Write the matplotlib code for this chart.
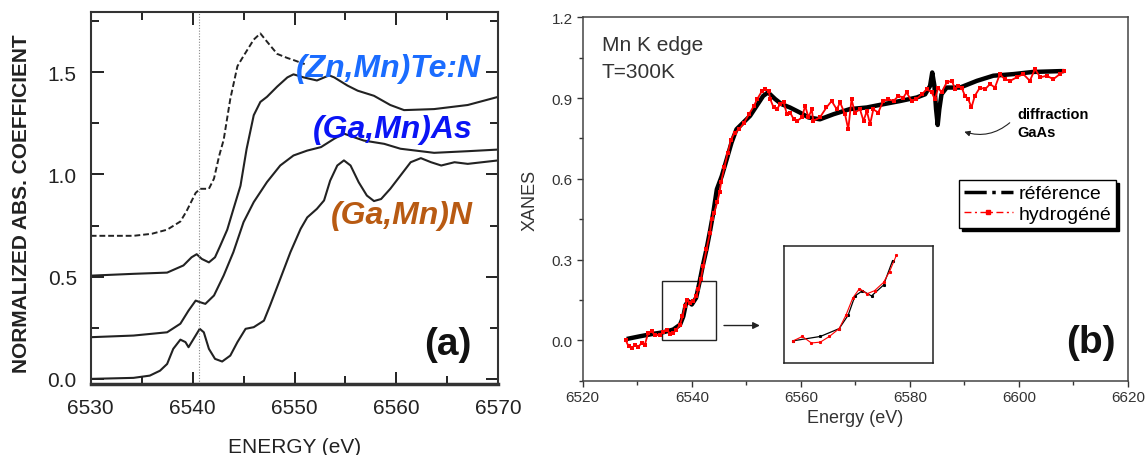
import numpy as np
import matplotlib
matplotlib.use("Agg")
import matplotlib.pyplot as plt
from matplotlib.lines import Line2D
from matplotlib.ticker import MultipleLocator, FormatStrFormatter
import matplotlib.patches as mpatches

plt.rcParams['font.family'] = ['Liberation Sans', 'DejaVu Sans']

# ---------------------------------------------------------------- #
# (a) Mn K-edge XANES of three DMS compounds (offset curves)
# ---------------------------------------------------------------- #
znmnte_e = [6530, 6532, 6534.2, 6536, 6537.5, 6538.8, 6539.4, 6540.3, 6540.75,
            6541.6, 6542.1, 6542.6, 6543.05, 6543.7, 6544.4, 6545.0, 6546.0,
            6546.65, 6547.3, 6548.3, 6549.3, 6549.9, 6551.0]
znmnte_y = [0.70, 0.70, 0.70, 0.71, 0.73, 0.77, 0.82, 0.91, 0.93,
            0.93, 0.98, 1.09, 1.17, 1.37, 1.53, 1.58, 1.66,
            1.69, 1.65, 1.59, 1.57, 1.56, 1.54]

gamnas_e = [6530, 6534.2, 6537.5, 6539.1, 6539.9, 6540.4, 6540.9, 6541.6, 6542.2,
            6542.7, 6543.4, 6544.0, 6544.7, 6545.3, 6546.0, 6546.65, 6547.3,
            6548.3, 6549.3, 6549.9, 6550.9, 6552.2, 6553.4, 6553.9, 6555.2,
            6556.2, 6557.8, 6559.4, 6560.75, 6563.7, 6567.0, 6570.0]
gamnas_y = [0.505, 0.514, 0.52, 0.555, 0.595, 0.61, 0.587, 0.57, 0.595,
            0.65, 0.73, 0.83, 0.945, 1.125, 1.29, 1.355, 1.38,
            1.43, 1.475, 1.49, 1.475, 1.46, 1.485, 1.475, 1.435,
            1.41, 1.385, 1.34, 1.315, 1.32, 1.34, 1.38]

gamnas2_e = [6530, 6534.2, 6537.5, 6538.8, 6539.6, 6540.3, 6540.75, 6541.25,
             6542.1, 6543.05, 6544.0, 6545.0, 6546.0, 6547.3, 6548.6, 6549.9,
             6551.25, 6552.6, 6553.9, 6554.85, 6555.8, 6556.8, 6558.8, 6560.4,
             6563.7, 6567.0, 6570.0]
gamnas2_y = [0.204, 0.212, 0.228, 0.27, 0.334, 0.383, 0.375, 0.367,
             0.408, 0.506, 0.62, 0.767, 0.865, 0.963, 1.044, 1.093,
             1.117, 1.134, 1.175, 1.20, 1.183, 1.166, 1.15, 1.126,
             1.106, 1.114, 1.122]

gamnn_e = [6530, 6534.2, 6535.8, 6536.8, 6537.5, 6538.1, 6538.8, 6539.3, 6539.6,
           6540.1, 6540.7, 6541.1, 6541.6, 6542.2, 6542.9, 6543.7, 6544.4,
           6545.2, 6546.0, 6547.0, 6547.6, 6548.6, 6549.6, 6550.6, 6551.25,
           6552.2, 6552.9, 6553.5, 6554.2, 6554.85, 6555.5, 6556.3, 6557.1,
           6557.8, 6558.5, 6559.4, 6560.4, 6561.4, 6562.4, 6563.4, 6564.4,
           6565.7, 6567.0, 6570.0]
gamnn_y = [0.0, 0.005, 0.016, 0.04, 0.073, 0.147, 0.192, 0.18, 0.155,
           0.196, 0.245, 0.228, 0.147, 0.098, 0.085, 0.114, 0.18,
           0.245, 0.253, 0.285, 0.359, 0.489, 0.62, 0.734, 0.79,
           0.832, 0.873, 0.97, 1.044, 1.069, 1.044, 0.962, 0.897,
           0.87, 0.88, 0.93, 0.995, 1.06, 1.08, 1.06, 1.044,
           1.06, 1.052, 1.069]

edge_marker_e = 6540.65

# ---------------------------------------------------------------- #
# (b) reference vs hydrogenated sample
# ---------------------------------------------------------------- #
ref_e = [6528.07, 6530.5, 6532.9, 6534.8, 6536.6, 6537.85, 6538.45, 6538.9,
         6539.4, 6540.0, 6540.8, 6541.4, 6542.0, 6542.7, 6543.35, 6543.95,
         6544.6, 6545.5, 6546.4,
         6547.3, 6548.2, 6549.45, 6550.7, 6551.9, 6553.1, 6554.0, 6555.3,
         6556.5, 6558.0, 6559.85, 6561.4, 6563.5, 6566.0, 6569.0, 6572.1,
         6575.1, 6578.2, 6581.25, 6582.8, 6583.7, 6584.1, 6584.5, 6584.8,
         6585.1, 6585.4, 6585.8, 6586.75, 6589.2, 6592.3, 6595.3, 6599.0,
         6602.6, 6607.5, 6608.3]
ref_y = [0.005, 0.015, 0.024, 0.03, 0.04, 0.058, 0.089, 0.133,
         0.145, 0.133, 0.158, 0.214, 0.275, 0.338, 0.406, 0.474,
         0.561, 0.61, 0.672,
         0.735, 0.784, 0.809, 0.834, 0.871, 0.908, 0.921, 0.896,
         0.877, 0.865, 0.846, 0.828, 0.821, 0.84, 0.859, 0.865,
         0.877, 0.889, 0.902, 0.914, 0.945, 0.995, 0.945, 0.859,
         0.80, 0.859, 0.914, 0.939, 0.939, 0.964, 0.983, 0.989,
         0.997, 1.0, 1.0]

hyd_e = [6527.9, 6528.4, 6529.0, 6529.6, 6530.2, 6530.8, 6531.4, 6532.0, 6532.65,
         6533.25, 6534.2, 6534.8, 6535.4, 6536.0, 6536.6, 6537.2, 6537.85, 6538.3,
         6538.75, 6539.2, 6539.7, 6540.2, 6540.8, 6541.2, 6541.65, 6542.1, 6542.7,
         6543.35, 6543.65, 6544.1, 6544.7, 6545.1, 6545.4, 6546.0, 6546.6, 6547.2,
         6547.85, 6548.7, 6549.6, 6550.5, 6551.4, 6552.0, 6552.9, 6553.5, 6554.1,
         6554.4, 6555.0, 6555.6, 6556.2, 6556.85, 6557.45, 6558.05, 6558.7,
         6559.3, 6560.2, 6560.8, 6561.4, 6562.0, 6562.3, 6563.5, 6564.7, 6565.65,
         6566.6, 6567.2, 6568.1, 6568.7, 6569.3, 6569.9, 6570.85, 6571.5, 6572.1,
         6572.7, 6573.3, 6574.2, 6575.1, 6576.0, 6577.0, 6577.9, 6578.8, 6579.4,
         6580.3, 6581.2, 6582.2, 6583.1, 6584.0, 6584.6, 6585.2, 6585.8, 6586.75,
         6587.7, 6588.3, 6588.9, 6589.5, 6590.1, 6590.7, 6591.3, 6591.9, 6592.85,
         6593.8, 6594.7, 6595.6, 6596.5, 6597.4, 6598.4, 6599.6, 6600.8, 6602.0,
         6602.95, 6603.9, 6605.1, 6606.3, 6607.5, 6608.3]
hyd_y = [0.0, -0.022, -0.03, -0.016, -0.024, -0.01, -0.016, 0.027, 0.033,
         0.02, 0.02, 0.03, 0.04, 0.025, 0.027, 0.04, 0.058, 0.089,
         0.128, 0.15, 0.138, 0.145, 0.164, 0.189, 0.226, 0.275, 0.338,
         0.40, 0.45, 0.474, 0.515, 0.55, 0.59, 0.645, 0.696, 0.746,
         0.77, 0.784, 0.809, 0.84, 0.871, 0.896, 0.927, 0.933, 0.927,
         0.896, 0.865, 0.858, 0.877, 0.884, 0.84, 0.846, 0.821,
         0.815, 0.828, 0.871, 0.828, 0.858, 0.815, 0.828, 0.865, 0.889,
         0.858, 0.884, 0.84, 0.784, 0.896, 0.846, 0.858, 0.815, 0.852,
         0.803, 0.858, 0.846, 0.889, 0.896, 0.889, 0.908, 0.902, 0.921,
         0.889, 0.896, 0.914, 0.933, 0.921, 0.896, 0.939, 0.921, 0.958,
         0.964, 0.933, 0.945, 0.939, 0.908, 0.896, 0.865, 0.908, 0.939,
         0.933, 0.952, 0.939, 0.989, 0.97, 0.964, 0.977, 0.989, 0.964,
         1.008, 0.977, 0.983, 0.97, 0.989, 1.0]

zoom_box = (6534.6, 0.0, 6544.4, 0.222)   # region enlarged in the inset
inset_window = (6534.7, 6541.7)

W, H = 1146, 456
fig = plt.figure(figsize=(W / 100, H / 100), dpi=100)


def px(x0, y0, x1, y1):
    # pixel box (top-left origin) -> figure fraction rect
    return [x0 / W, 1 - y1 / H, (x1 - x0) / W, (y1 - y0) / H]


# ---------------------------- panel (a) ---------------------------- #
ax_a = fig.add_axes(px(90.7, 13, 498.3, 385))
ax_a.plot(znmnte_e, znmnte_y, color='#222222', lw=1.4, ls=(0, (3, 1.5)))
for e, y in [(gamnas_e, gamnas_y), (gamnas2_e, gamnas2_y), (gamnn_e, gamnn_y)]:
    ax_a.plot(e, y, color='#222222', lw=1.5)
ax_a.axvline(edge_marker_e, color='#888888', lw=0.8, ls=(0, (1, 1.5)))

ax_a.set_xlim(6530, 6570)
ax_a.set_ylim(-0.025, 1.795)
ax_a.xaxis.set_major_locator(MultipleLocator(10))
ax_a.xaxis.set_minor_locator(MultipleLocator(5))
ax_a.yaxis.set_major_locator(MultipleLocator(0.5))
ax_a.yaxis.set_minor_locator(MultipleLocator(0.25))
ax_a.tick_params(which='both', direction='in', top=True, right=True,
                 labelsize=15, colors='#222222', width=1.4)
ax_a.tick_params(which='major', length=9, pad=10)
ax_a.tick_params(which='minor', length=6)
for s in ax_a.spines.values():
    s.set_linewidth(1.5)
    s.set_color('#333333')
ax_a.spines['bottom'].set_linewidth(2.5)

ax_a.text(6568.3, 1.52, "(Zn,Mn)Te:N", color='#1a6cff', fontsize=23,
          fontweight='bold', fontstyle='italic', ha='right', va='center')
ax_a.text(6567.5, 1.223, "(Ga,Mn)As", color='#0a14f5', fontsize=23,
          fontweight='bold', fontstyle='italic', ha='right', va='center')
ax_a.text(6567.5, 0.80, "(Ga,Mn)N", color='#b85a12', fontsize=23,
          fontweight='bold', fontstyle='italic', ha='right', va='center')
ax_a.text(6565.0, 0.17, "(a)", color='#111111', fontsize=28,
          fontweight='bold', ha='center', va='center')

fig.text(21.7 / W, 1 - 203.5 / H, "NORMALIZED ABS. COEFFICIENT", rotation=90,
         fontsize=15, fontweight='bold', color='#222222', ha='center', va='center')
fig.text(295 / W, 1 - 438 / H, "ENERGY (eV)", fontsize=15, color='#222222',
         ha='center', va='top')

# ---------------------------- panel (b) ---------------------------- #
ax_b = fig.add_axes(px(582.7, 18.3, 1128, 381.7))
ax_b.plot(ref_e, ref_y, color='black', lw=3.2, solid_capstyle='butt')
ax_b.plot(hyd_e, hyd_y, color='red', lw=1.3, marker='s', ms=2.6, mew=0)

ax_b.set_xlim(6520, 6620)
ax_b.set_ylim(-0.15, 1.2)
ax_b.xaxis.set_major_locator(MultipleLocator(20))
ax_b.xaxis.set_minor_locator(MultipleLocator(10))
ax_b.yaxis.set_major_locator(MultipleLocator(0.3))
ax_b.yaxis.set_minor_locator(MultipleLocator(0.15))
ax_b.yaxis.set_major_formatter(FormatStrFormatter('%.1f'))
ax_b.tick_params(which='both', direction='out', labelsize=11, colors='#333333',
                 width=1)
ax_b.tick_params(which='major', length=4, pad=3)
ax_b.tick_params(which='minor', length=3)
for s in ax_b.spines.values():
    s.set_color('#444444')
    s.set_linewidth(1.1)

fig.text(530 / W, 1 - 200 / H, "XANES", rotation=90, fontsize=13,
         color='#333333', ha='center', va='center')
fig.text(855 / W, 1 - 419 / H, "Energy (eV)", fontsize=13, color='#333333',
         ha='center', va='center')

ax_b.text(6523.5, 1.134, "Mn K edge", fontsize=15, color='#333333',
          ha='left', va='top')
ax_b.text(6523.5, 1.033, "T=300K", fontsize=15, color='#333333',
          ha='left', va='top')
ax_b.text(6599.8, 0.84, "diffraction", fontsize=10.5, fontweight='bold',
          ha='left', va='center')
ax_b.text(6599.8, 0.773, "GaAs", fontsize=10.5, fontweight='bold',
          ha='left', va='center')
ax_b.annotate("", xy=(6589.5, 0.778), xytext=(6598.7, 0.815),
              arrowprops=dict(arrowstyle='-|>', color='#222222', lw=0.8,
                              mutation_scale=8,
                              connectionstyle='arc3,rad=-0.3'))
ax_b.text(6613.2, -0.007, "(b)", fontsize=28, fontweight='bold', color='#111111',
          ha='center', va='center')

# zoomed region marker and arrow
zx0, zy0, zx1, zy1 = zoom_box
ax_b.add_patch(mpatches.Rectangle((zx0, zy0), zx1 - zx0, zy1 - zy0,
                                  fill=False, edgecolor='#222222', lw=1))
ax_b.annotate("", xy=(6553.0, 0.055), xytext=(6545.4, 0.055),
              arrowprops=dict(arrowstyle='-|>', color='#222222', lw=1,
                              mutation_scale=10))

leg_handles = [
    Line2D([], [], color='black', lw=2.5, ls='-.'),
    Line2D([], [], color='red', lw=1.0, ls=(0, (5, 2.5, 1.5, 2.5)),
           marker='s', ms=2.5, markevery=[1]),
]
ax_b.legend(leg_handles, ["référence", "hydrogéné"], loc='upper left',
            bbox_to_anchor=(959.3 / W, 1 - 181 / H), bbox_transform=fig.transFigure,
            borderaxespad=0, fontsize=14, handlelength=2.5, handletextpad=0.3,
            borderpad=0.25, labelspacing=0.15, fancybox=False, framealpha=1,
            edgecolor='black', shadow={'color': 'black', 'alpha': 1})

# inset: enlarged pre-edge region
ax_in = fig.add_axes(px(784.3, 247.3, 932.7, 364))
e_ref = np.array(ref_e)
e_hyd = np.array(hyd_e)
m_ref = (e_ref >= inset_window[0]) & (e_ref <= inset_window[1])
m_hyd = (e_hyd >= inset_window[0]) & (e_hyd <= inset_window[1])
ax_in.plot(e_ref[m_ref], np.array(ref_y)[m_ref], color='black', lw=0.9,
           marker='s', ms=1.2)
ax_in.plot(e_hyd[m_hyd], np.array(hyd_y)[m_hyd], color='red', lw=0.8,
           marker='s', ms=1.2)
ax_in.set_xlim(6534.2, 6544.07)
ax_in.set_ylim(-0.021, 0.247)
ax_in.set_xticks([])
ax_in.set_yticks([])
for s in ax_in.spines.values():
    s.set_color('#222222')
    s.set_linewidth(1.1)

fig.savefig("out.png", dpi=100)
